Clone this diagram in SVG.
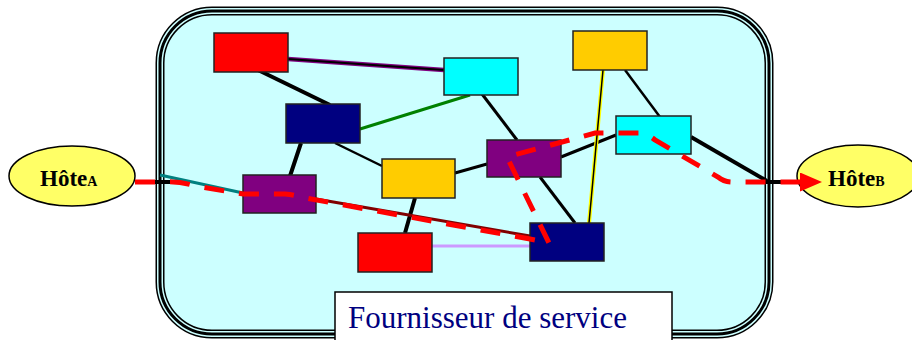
<svg xmlns="http://www.w3.org/2000/svg" width="912" height="340" viewBox="0 0 912 340">
  <style>
    .node { stroke: #222; stroke-width: 1.5; }
    .link { fill: none; stroke-linecap: butt; }
    .host { fill: #ffff66; stroke: #000; stroke-width: 1.5; }
    .hlabel { font-family: "Liberation Serif", "Times New Roman", serif; font-weight: bold; fill: #000; }
    .route { fill: none; stroke: #ff0000; stroke-width: 5; stroke-dasharray: 20 15; }
  </style>
  <defs>
    <marker id="arrowRed" markerUnits="userSpaceOnUse" markerWidth="24" markerHeight="20" refX="2" refY="9.5" orient="auto">
      <path d="M0,0 L22,9.5 L0,19 Z" fill="#ff0000"/>
    </marker>
  </defs>

  <rect width="912" height="340" fill="#ffffff"/>

  <!-- provider network boundary: triple-line rounded frame -->
  <g id="provider">
    <rect x="160" y="11" width="609" height="323" rx="52" ry="52" fill="#ccffff" stroke="#000" stroke-width="9"/>
    <rect x="160" y="11" width="609" height="323" rx="52" ry="52" fill="none" stroke="#ccffff" stroke-width="6"/>
    <rect x="160" y="11" width="609" height="323" rx="52" ry="52" fill="none" stroke="#000" stroke-width="3"/>
  </g>

  <!-- links between routers -->
  <g id="connectors">
    <line class="link" x1="288" y1="59" x2="444" y2="70" stroke="#800080" stroke-width="4.5"/>
    <line class="link" x1="288" y1="59" x2="444" y2="70" stroke="#000" stroke-width="2"/>
    <line class="link" x1="258" y1="70" x2="330" y2="105" stroke="#000" stroke-width="4"/>
    <line class="link" x1="360" y1="129" x2="470" y2="95" stroke="#008000" stroke-width="3"/>
    <line class="link" x1="482" y1="94" x2="517" y2="140" stroke="#000" stroke-width="3"/>
    <line class="link" x1="335" y1="143" x2="382" y2="166" stroke="#000" stroke-width="2.5"/>
    <line class="link" x1="301" y1="143" x2="290" y2="176" stroke="#000" stroke-width="4"/>
    <line class="link" x1="455" y1="173" x2="487" y2="164" stroke="#000" stroke-width="3"/>
    <line class="link" x1="415" y1="198" x2="405" y2="233" stroke="#000" stroke-width="4"/>
    <line class="link" x1="540" y1="177" x2="575" y2="223" stroke="#000" stroke-width="3"/>
    <line class="link" x1="561" y1="157" x2="616" y2="135" stroke="#000" stroke-width="3"/>
    <line class="link" x1="603" y1="70" x2="589" y2="223" stroke="#ffff00" stroke-width="4"/>
    <line class="link" x1="603" y1="70" x2="589" y2="223" stroke="#000" stroke-width="1.5"/>
    <line class="link" x1="625" y1="70" x2="660" y2="117" stroke="#000" stroke-width="2.5"/>
    <line class="link" x1="691" y1="137" x2="767" y2="181" stroke="#000" stroke-width="4"/>
    <line class="link" x1="432" y1="246" x2="530" y2="246" stroke="#cc99ff" stroke-width="3"/>
    <line class="link" x1="316" y1="199" x2="530" y2="236" stroke="#800000" stroke-width="3"/>
    <line class="link" x1="160" y1="175" x2="243" y2="193" stroke="#008080" stroke-width="3"/>
    <line class="link" x1="135" y1="182" x2="172" y2="182" stroke="#000" stroke-width="4"/>
    <line class="link" x1="760" y1="182" x2="802" y2="182" stroke="#000" stroke-width="4"/>
  </g>

  <!-- routers -->
  <g id="r-red-top"><rect class="node" x="214" y="33" width="74" height="39" fill="#ff0000"/></g>
  <g id="r-cyan-top"><rect class="node" x="444" y="58" width="74" height="37" fill="#00ffff"/></g>
  <g id="r-navy-top"><rect class="node" x="286" y="104" width="74" height="39" fill="#000080"/></g>
  <g id="r-yellow-mid"><rect class="node" x="382" y="159" width="73" height="39" fill="#ffcc00"/></g>
  <g id="r-purple-right"><rect class="node" x="487" y="140" width="74" height="37" fill="#800080"/></g>
  <g id="r-purple-left"><rect class="node" x="243" y="175" width="73" height="38" fill="#800080"/></g>
  <g id="r-red-bottom"><rect class="node" x="358" y="233" width="74" height="39" fill="#ff0000"/></g>
  <g id="r-navy-bottom"><rect class="node" x="530" y="223" width="74" height="38" fill="#000080"/></g>
  <g id="r-yellow-top"><rect class="node" x="573" y="31" width="74" height="39" fill="#ffcc00"/></g>
  <g id="r-cyan-right"><rect class="node" x="616" y="116" width="75" height="38" fill="#00ffff"/></g>

  <!-- end hosts -->
  <g id="hostA">
    <ellipse class="host" cx="72" cy="176" rx="63" ry="30"/>
    <text class="hlabel" x="40" y="186" font-size="23">Hôte<tspan font-size="14">A</tspan></text>
  </g>
  <g id="hostB">
    <ellipse class="host" cx="858" cy="176" rx="61" ry="31"/>
    <text class="hlabel" x="828" y="186" font-size="23">Hôte<tspan font-size="14">B</tspan></text>
  </g>

  <!-- path taken through the provider -->
  <g id="route">
    <path class="route" marker-end="url(#arrowRed)" d="M135,182 L165,182 Q180,181 195,186 L243,194 L285,194 Q295,195 300,197 L530,239 Q545,242 549,243 L507,157 L540,148 L595,133 L640,133 Q648,134 655,140 L718,177 Q724,182 732,182 L802,182"/>
  </g>

  <!-- caption box -->
  <g id="caption">
    <rect x="335" y="292" width="337" height="55" fill="#ffffff" stroke="#000" stroke-width="1.5"/>
    <text x="348" y="328" font-family="'Liberation Serif', 'Times New Roman', serif" font-size="31" fill="#000080">Fournisseur de service</text>
  </g>
</svg>
